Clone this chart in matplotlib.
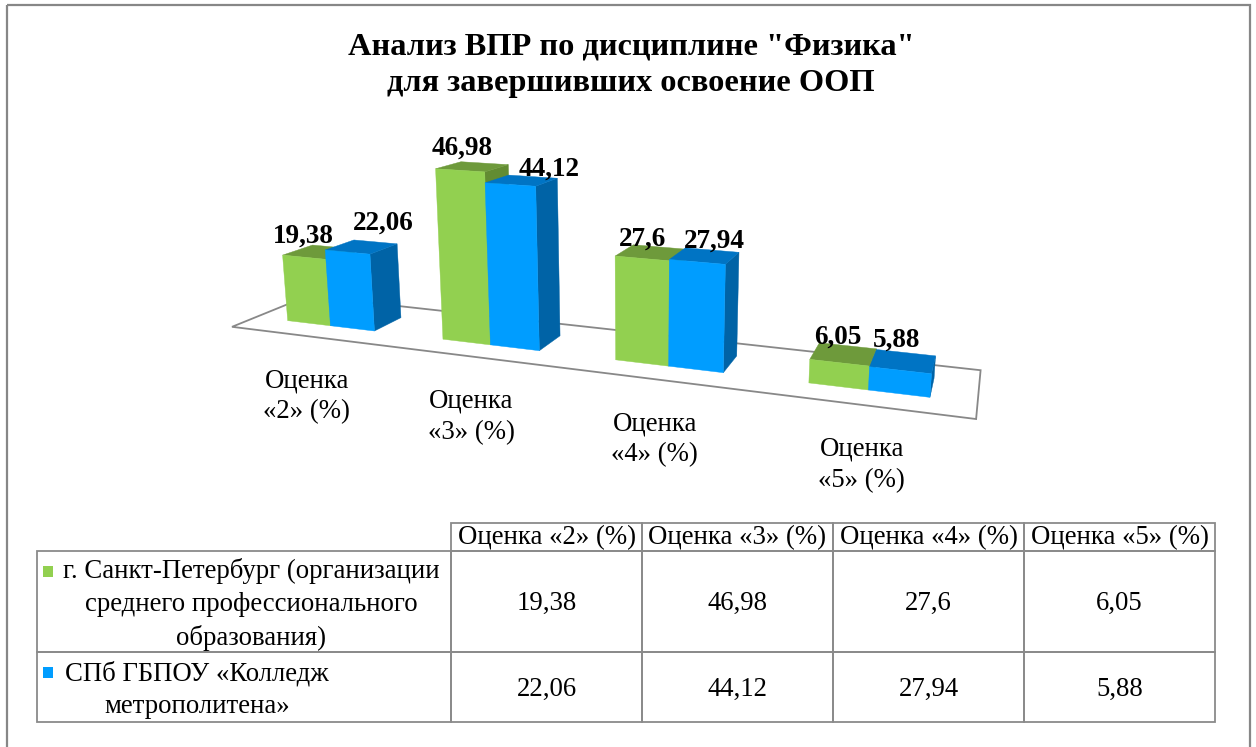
import numpy as np
import matplotlib
matplotlib.use('Agg')
import matplotlib.pyplot as plt
from matplotlib.patches import Polygon, Rectangle

plt.rcParams['font.family'] = ['Liberation Serif', 'DejaVu Serif']

# ---- data ----
title = 'Анализ ВПР по дисциплине "Физика"\nдля завершивших освоение ООП'
categories = ['Оценка «2» (%)', 'Оценка «3» (%)', 'Оценка «4» (%)', 'Оценка «5» (%)']
axis_labels = ['Оценка\n«2» (%)', 'Оценка\n«3» (%)', 'Оценка\n«4» (%)', 'Оценка\n«5» (%)']
series_names = ['г. Санкт-Петербург (организации\nсреднего профессионального\nобразования)',
                'СПб ГБПОУ «Колледж\nметрополитена»']
spb_values = [19.38, 46.98, 27.6, 6.05]
college_values = [22.06, 44.12, 27.94, 5.88]

# colours: front, top, side
green = ('#92D050', '#6E9A3B', '#628C32')
blue = ('#009DFF', '#0074C4', '#0063A6')
edge_gray = '#888888'

# label nudges (pixels) from the top front centre of each bar
green_dx, green_dy = [-1, 2, 0, -2], [-15, -16, -13, -19]
blue_dx, blue_dy = [36, 39, 17, -4], [-22, -9, -14, -24]

# ---- 3d look: camera fitted on the floor and a few bar corners (pixel positions) ----
w = 1 / 3.5              # bar width (gap 150%)
m = 0.75 * w             # left margin in a category
y0, y1 = 0.3, 0.7        # bar depth (gap depth 150%)
calib = [
    ((0, 0, 0), (233, 327)), ((4, 0, 0), (975, 420)), ((4, 1, 0), (983, 369)), ((0, 1, 0), (306, 296)),
    ((m, y0, 19.38), (284, 255)), ((m, y0, 0), (288, 324)),
    ((1 - m, y0, 22.06), (372, 253)), ((1 - m, y1, 22.06), (398, 243)), ((1 - m, y0, 0), (375, 330)),
    ((1 + m, y0, 46.98), (436, 169)), ((1.5, y1, 46.98), (508, 164)), ((1 + m, y0, 0), (443, 338)),
    ((2 - m, y0, 44.12), (535, 185)), ((2 - m, y1, 44.12), (557, 179)), ((2 - m, y0, 0), (538, 350)),
    ((1.5, y0, 0), (489, 344)),
    ((2 + m, y0, 27.6), (615, 257)), ((2 + m, y0, 0), (615, 360)),
    ((3 - m, y0, 27.94), (725, 263)), ((3 - m, y1, 27.94), (737, 256)), ((3 - m, y0, 0), (723, 373)),
    ((3 + m, y0, 6.05), (809, 360)), ((3 + m, y0, 0), (808, 383)),
    ((4 - m, y0, 5.88), (933, 373)), ((4 - m, y1, 5.88), (937, 356)), ((4 - m, y0, 0), (930, 397)),
]


def fit_camera(pairs):
    W = np.array([p[0] for p in pairs], float)
    P = np.array([p[1] for p in pairs], float)
    wm, ws = W.mean(0), W.std(0)
    pm, ps = P.mean(0), P.std(0)
    Tw = np.eye(4); Tw[:3, :3] = np.diag(1 / ws); Tw[:3, 3] = -wm / ws
    Tp = np.eye(3); Tp[:2, :2] = np.diag(1 / ps); Tp[:2, 2] = -pm / ps
    Wn = (Tw @ np.c_[W, np.ones(len(W))].T).T
    Pn = (Tp @ np.c_[P, np.ones(len(P))].T).T
    rows = []
    for (X, Y, Z, _), (u, v, _) in zip(Wn, Pn):
        rows.append([X, Y, Z, 1, 0, 0, 0, 0, -u * X, -u * Y, -u * Z, -u])
        rows.append([0, 0, 0, 0, X, Y, Z, 1, -v * X, -v * Y, -v * Z, -v])
    _, _, Vt = np.linalg.svd(np.array(rows))
    return np.linalg.inv(Tp) @ Vt[-1].reshape(3, 4) @ Tw


M = fit_camera(calib)


def proj(X, Y, Z):
    h = M @ np.array([X, Y, Z, 1.0])
    return h[0] / h[2], h[1] / h[2]


def fmt(v):
    return ('%g' % v).replace('.', ',')


fig = plt.figure(figsize=(12.56, 7.47), dpi=100)
ax = fig.add_axes([0, 0, 1, 1])
ax.set_xlim(0, 1256)
ax.set_ylim(747, 0)
ax.axis('off')

# outer frame
ax.add_patch(Rectangle((7, 5), 1243, 760, fill=False, ec='#878787', lw=1.6, clip_on=False))

ax.text(631, 65, title, ha='center', va='center', fontsize=23.3, fontweight='bold', linespacing=1.33)

# floor
floor = [proj(0, 0, 0), proj(4, 0, 0), proj(4, 1, 0), proj(0, 1, 0)]
ax.add_patch(Polygon(floor, closed=True, fc='white', ec=edge_gray, lw=1.3, zorder=1))


def draw_bar(xa, xb, h, cols):
    front = [proj(xa, y0, 0), proj(xb, y0, 0), proj(xb, y0, h), proj(xa, y0, h)]
    side = [proj(xb, y0, 0), proj(xb, y1, 0), proj(xb, y1, h), proj(xb, y0, h)]
    top = [proj(xa, y0, h), proj(xb, y0, h), proj(xb, y1, h), proj(xa, y1, h)]
    for pts, c in ((side, cols[2]), (top, cols[1]), (front, cols[0])):
        ax.add_patch(Polygon(pts, closed=True, fc=c, ec=c, lw=0.3, zorder=2))


for i in range(len(categories)):
    draw_bar(i + m, i + 0.5, spb_values[i], green)
    draw_bar(i + 0.5, i + 1 - m, college_values[i], blue)

for i in range(len(categories)):
    for xc, v, dx, dy in ((i + 0.5 - w / 2, spb_values[i], green_dx[i], green_dy[i]),
                          (i + 0.5 + w / 2, college_values[i], blue_dx[i], blue_dy[i])):
        px, py = proj(xc, y0, v)
        ax.text(px + dx, py + dy, fmt(v), ha='center', va='baseline', fontsize=19.5,
                fontweight='bold', zorder=5)
    px, py = proj(i + 0.5, 0, 0)
    ax.text(px - 1, py + 32, axis_labels[i], ha='center', va='top', fontsize=19.3,
            linespacing=1.32, zorder=5)

# ---- data table ----
col_x = [37, 451, 642, 833, 1024, 1215]
row_y = [523, 551, 652, 722]
lc = '#8A8A8A'
fs = 19.3
for j in range(len(categories)):
    ax.add_patch(Rectangle((col_x[j + 1], row_y[0]), col_x[j + 2] - col_x[j + 1], row_y[1] - row_y[0],
                           fill=False, ec=lc, lw=1.3))
    ax.text((col_x[j + 1] + col_x[j + 2]) / 2, (row_y[0] + row_y[1]) / 2 + 1, categories[j],
            ha='center', va='center', fontsize=fs)
series_vals = [spb_values, college_values]
series_cols = [green[0], blue[0]]
label_cx = [251, 197]
for r in range(2):
    ya, yb = row_y[r + 1], row_y[r + 2]
    for j in range(len(col_x) - 1):
        ax.add_patch(Rectangle((col_x[j], ya), col_x[j + 1] - col_x[j], yb - ya, fill=False, ec=lc, lw=1.3))
    ax.text(label_cx[r], (ya + yb) / 2 + 3, series_names[r], ha='center', va='center', fontsize=fs,
            linespacing=1.4)
    ax.add_patch(Rectangle((43, ya + 15), 10, 11, fc=series_cols[r], ec='none'))
    for j in range(len(categories)):
        ax.text((col_x[j + 1] + col_x[j + 2]) / 2, (ya + yb) / 2 + 2, fmt(series_vals[r][j]),
                ha='center', va='center', fontsize=fs)

fig.savefig('out.png', dpi=100)
